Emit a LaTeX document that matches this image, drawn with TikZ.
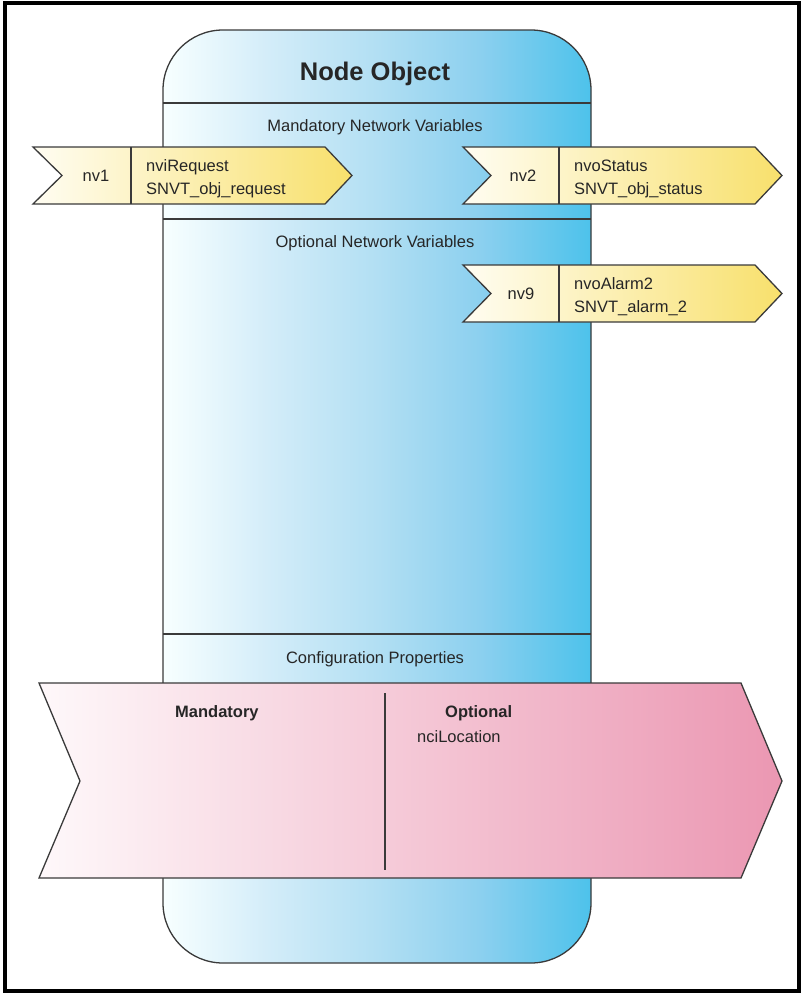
\documentclass[tikz,border=0pt]{standalone}
\usepackage{fontspec}
\setmainfont{Liberation Sans}
\definecolor{edge}{HTML}{3A3A3A}
\definecolor{yelL}{HTML}{FFFDF2}
\definecolor{yelR}{HTML}{F8E06C}
\definecolor{pinkL}{HTML}{FEF8FA}
\definecolor{pinkR}{HTML}{EB97B2}
\pgfdeclarehorizontalshading{nodeblue}{100bp}{%
  color(0bp)=(white); color(25bp)=(white!97!cyan);
  color(37bp)=(rgb,255:red,212;green,237;blue,249);
  color(50bp)=(rgb,255:red,178;green,223;blue,243);
  color(62bp)=(rgb,255:red,140;green,208;blue,239);
  color(75bp)=(rgb,255:red,77;green,194;blue,235);
  color(100bp)=(rgb,255:red,77;green,194;blue,235)}
\tikzset{
  shapeline/.style={draw=edge, line width=1.3pt},
  yelarrow/.style={shapeline, left color=yelL, right color=yelR},
  pinkarrow/.style={shapeline, left color=pinkL, right color=pinkR},
  txt/.style={inner sep=0pt, font=\fontsize{16.5}{19}\selectfont, text=black!85},
  btxt/.style={txt, font=\fontsize{16.5}{19}\selectfont\bfseries},
}
\begin{document}
\begin{tikzpicture}[x=1pt,y=-1pt]
\useasboundingbox (0,0) rectangle (803,993);
% frame
\draw[line width=4pt, black] (5,2.5) rectangle (799,991);
% node object body
\draw[shapeline, shading=nodeblue, rounded corners=60pt] (163,30) rectangle (591,963);
\draw[shapeline] (163,103) -- (591,103);
\draw[shapeline] (163,219) -- (591,219);
\draw[shapeline] (163,634) -- (591,634);
\node[txt, anchor=base, font=\fontsize{25.5}{28}\selectfont\bfseries] (title) at (375,80) {Node Object};
\node[txt, anchor=base] (mnv) at (375,131) {Mandatory Network Variables};
\node[txt, anchor=base] (onv) at (375,247) {Optional Network Variables};
\node[txt, anchor=base] (cp) at (375,663) {Configuration Properties};
% nv1
\draw[yelarrow] (33,147) -- (325,147) -- (352,175.5) -- (325,204) -- (33,204) -- (62,175.5) -- cycle;
\draw[shapeline] (131,147) -- (131,204);
\node[txt, anchor=base] (nv1) at (96,181) {nv1};
\node[txt, anchor=base west] (nv1a) at (146,171.5) {nviRequest};
\node[txt, anchor=base west] (nv1b) at (146,194) {SNVT\_obj\_request};
% nv2
\draw[yelarrow] (463,147) -- (755,147) -- (782,175.5) -- (755,204) -- (463,204) -- (491,175.5) -- cycle;
\draw[shapeline] (559,147) -- (559,204);
\node[txt, anchor=base] (nv2) at (523,181) {nv2};
\node[txt, anchor=base west] (nv2a) at (574,171.5) {nvoStatus};
\node[txt, anchor=base west] (nv2b) at (574,194) {SNVT\_obj\_status};
% nv9
\draw[yelarrow] (463,265) -- (755,265) -- (782,293.5) -- (755,322) -- (463,322) -- (491,293.5) -- cycle;
\draw[shapeline] (559,265) -- (559,322);
\node[txt, anchor=base] (nv9) at (521,299) {nv9};
\node[txt, anchor=base west] (nv9a) at (574,289.5) {nvoAlarm2};
\node[txt, anchor=base west] (nv9b) at (574,312) {SNVT\_alarm\_2};
% configuration properties
\draw[pinkarrow] (39,683) -- (741,683) -- (782,781) -- (741,878) -- (39,878) -- (80,781) -- cycle;
\draw[shapeline] (385,693) -- (385,870);
\node[btxt, anchor=base west] (mand) at (175,717) {Mandatory};
\node[btxt, anchor=base west] (opt) at (445,717) {Optional};
\node[txt, anchor=base west] (nci) at (417,742) {nciLocation};
\end{tikzpicture}
\end{document}
